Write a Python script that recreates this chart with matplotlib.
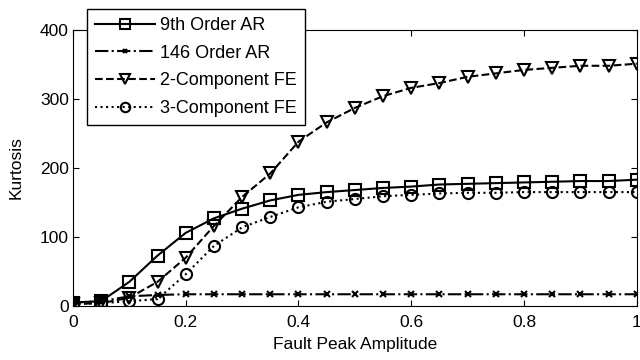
import matplotlib
matplotlib.use('Agg')
import matplotlib.pyplot as plt
import numpy as np

plt.rcParams['font.family'] = ['Liberation Sans', 'DejaVu Sans']

# Fault peak amplitude (x axis)
amplitude = [0, 0.05, 0.1, 0.15, 0.2, 0.25, 0.3, 0.35, 0.4, 0.45, 0.5,
             0.55, 0.6, 0.65, 0.7, 0.75, 0.8, 0.85, 0.9, 0.95, 1.0]

# Kurtosis for each method
ar9 = [5, 7, 35, 73, 106, 127, 141, 153, 161, 165, 168,
       171, 173, 176, 177, 178, 179, 180, 181, 181, 183]
ar146 = [5, 7, 14, 16, 17, 17, 17, 17, 17, 17, 17,
         17, 17, 17, 17, 17, 17, 17, 17, 17, 17]
fe2 = [3, 4, 12, 35, 70, 116, 158, 192, 238, 266, 287,
       304, 316, 323, 332, 337, 342, 345, 348, 348, 351]
fe3 = [3, 4, 7, 10, 46, 87, 114, 129, 143, 151, 155,
       159, 161, 163, 164, 164, 165, 165, 165, 165, 165]

fig = plt.figure(figsize=(6.4, 3.6), dpi=100)
ax = fig.add_axes([0.114, 0.15, 0.881, 0.767])

style = dict(color='black', lw=1.5, mfc='none', mec='black', mew=1.5)
ax.plot(amplitude, ar9, '-', marker='s', ms=8, label='9th Order AR', **style)
ax.plot(amplitude, ar146, '-.', marker='x', ms=4, label='146 Order AR', **style)
ax.plot(amplitude, fe2, '--', marker='v', ms=9, label='2-Component FE', **style)
ax.plot(amplitude, fe3, ':', marker='o', ms=8, label='3-Component FE', **style)

ax.set_xlim(0, 1)
ax.set_ylim(0, 400)
ax.set_xticks([0, 0.2, 0.4, 0.6, 0.8, 1])
ax.set_xticklabels(['0', '0.2', '0.4', '0.6', '0.8', '1'])
ax.set_yticks([0, 100, 200, 300, 400])
ax.tick_params(direction='in', top=True, right=True, labelsize=12.5, length=4, pad=3)
ax.tick_params(axis='x', pad=6.5)
ax.set_xlabel('Fault Peak Amplitude', fontsize=12.5, labelpad=5)
ax.set_ylabel('Kurtosis', fontsize=12.5, labelpad=12)

leg = ax.legend(loc='upper left', bbox_to_anchor=(0.136, 0.975),
                bbox_transform=fig.transFigure, fontsize=13,
                fancybox=False, edgecolor='black', framealpha=1,
                handlelength=3.3, handletextpad=0.3, borderaxespad=0,
                borderpad=0.44, labelspacing=0.59, markerscale=0.85)
leg.get_frame().set_linewidth(1.0)

fig.savefig('out.png', dpi=100)
